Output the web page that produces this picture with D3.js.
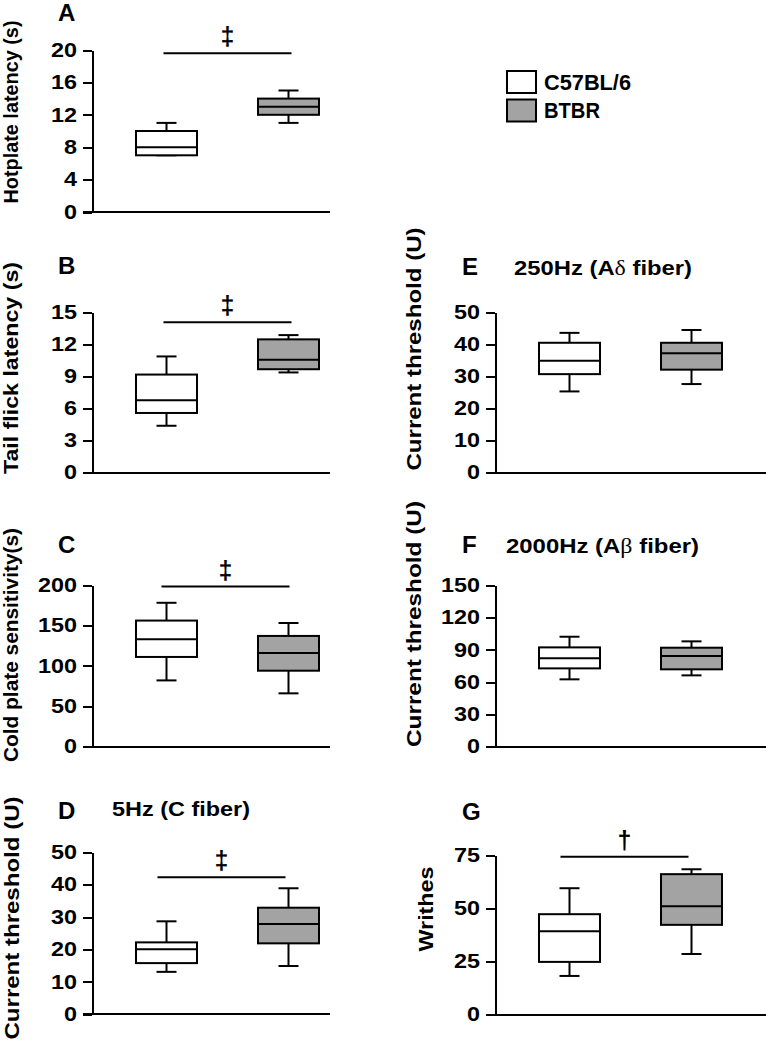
<!DOCTYPE html>
<meta charset="utf-8">
<head>
    <style type="text/css">
        body { margin: 0; background: #fff; }
        svg text { font-family: Arial, "Liberation Sans", sans-serif; font-weight: bold; fill: #000; }
        .axis path, .axis line, .xline { stroke: #000; stroke-width: 2; shape-rendering: crispEdges; }
        .axis text { font-size: 19.5px; }
        .box { stroke: #000; stroke-width: 2; }
        .sig { stroke: #000; stroke-width: 2; }
    </style>
</head>
<body>
<script src="https://d3js.org/d3.v7.min.js"></script>
<script>
    // groups (x categories)
    var groups = ["C57BL/6", "BTBR"];
    var fills = ["#ffffff", "#a3a3a3"];

    // box stats per group: [min, q1, median, q3, max]
    var hotplate  = [[7, 7, 8, 10, 11], [11, 12, 13, 14, 15]];
    var tailFlick = [[4.4, 5.6, 6.8, 9.2, 10.9], [9.4, 9.7, 10.6, 12.5, 12.9]];
    var coldPlate = [[82, 111, 133, 156, 178], [66, 94, 116, 137, 153]];
    var cFiber    = [[13.1, 15.8, 20.1, 22.2, 28.7], [14.9, 21.9, 27.9, 32.9, 38.9]];
    var adFiber   = [[25.4, 30.8, 35, 40.6, 43.7], [27.7, 32.2, 37.3, 40.6, 44.6]];
    var abFiber   = [[62.6, 72.8, 82.1, 92.3, 102.2], [66.3, 71.9, 84.2, 92, 97.9]];
    var writhes   = [[18.2, 24.8, 39.2, 47.2, 59.4], [28.5, 42.2, 50.9, 66, 68.3]];

    // tick labels
    var hotplateTicks = [0, 4, 8, 12, 16, 20];
    var tailTicks     = [0, 3, 6, 9, 12, 15];
    var coldTicks     = [0, 50, 100, 150, 200];
    var cTicks        = [0, 10, 20, 30, 40, 50];
    var adTicks       = [0, 10, 20, 30, 40, 50];
    var abTicks       = [0, 30, 60, 90, 120, 150];
    var writhesTicks  = [0, 25, 50, 75];

    // significance bars: level in data units and the symbol
    var sigLevels  = [19.6, 14.1, 198, 42.3, null, null, 74.2];
    var sigSymbols = ["\u2021", "\u2021", "\u2021", "\u2021", "", "", "\u2020"];

    // layout only: axis position, label spots (x, y centre, length)
    var panels = [
        { letter: "A", data: hotplate,  ticks: hotplateTicks, ylabel: "Hotplate latency (s)",      ax: 92,  y0: 212,    yTop: 50,    xEnd: 330, lab: [58, 21],  yl: [18, 112, 183], sdx: 0 },
        { letter: "B", data: tailFlick, ticks: tailTicks,     ylabel: "Tail flick latency (s)",    ax: 92,  y0: 472.7,  yTop: 312.7, xEnd: 330, lab: [58, 274], yl: [18, 368, 212], sdx: 0 },
        { letter: "C", data: coldPlate, ticks: coldTicks,     ylabel: "Cold plate sensitivity(s)", ax: 92,  y0: 746.7,  yTop: 585,   xEnd: 330, lab: [58, 553], yl: [18, 645, 234], sdx: -2 },
        { letter: "D", data: cFiber,    ticks: cTicks,        ylabel: "Current threshold (U)",     ax: 92,  y0: 1014.3, yTop: 852.3, xEnd: 330, lab: [58, 819], yl: [19, 918, 243], sdx: -6,
          title: ["5Hz (C fiber)"], tx: [112, 816, 138] },
        { letter: "E", data: adFiber,   ticks: adTicks,       ylabel: "Current threshold (U)",     ax: 495, y0: 472.7,  yTop: 312.7, xEnd: 766, lab: [462, 275], yl: [421, 349, 243], sdx: 0,
          title: ["250Hz (A", "\u03b4", " fiber)"], tx: [514, 275, 178] },
        { letter: "F", data: abFiber,   ticks: abTicks,       ylabel: "Current threshold (U)",     ax: 495, y0: 746.7,  yTop: 585.3, xEnd: 766, lab: [462, 553], yl: [421, 624, 246], sdx: 0,
          title: ["2000Hz (A", "\u03b2", " fiber)"], tx: [506, 553, 193] },
        { letter: "G", data: writhes,   ticks: writhesTicks,  ylabel: "Writhes",                   ax: 495, y0: 1014.7, yTop: 855,   xEnd: 766, lab: [462, 820], yl: [433, 909, 85], sdx: -6 }
    ];

    var svg = d3.select("body").append("svg")
        .attr("width", 766)
        .attr("height", 1050);

    var boxW = 61, capW = 20, tickStretch = 1.2;

    panels.forEach(function (p, i) {
        var yScale = d3.scaleLinear()
            .domain([0, d3.max(p.ticks)])
            .range([p.y0, p.yTop]);

        var xScale = d3.scalePoint()
            .domain(groups)
            .range([p.ax + 74.5, p.ax + 196.5]);

        // x baseline
        svg.append("line")
            .attr("class", "xline")
            .attr("x1", p.ax - 9).attr("x2", p.xEnd)
            .attr("y1", p.y0).attr("y2", p.y0);

        // y axis
        var yAxis = svg.append("g")
            .attr("class", "axis")
            .attr("transform", "translate(" + p.ax + ",0)")
            .call(d3.axisLeft(yScale).tickValues(p.ticks).tickSize(9).tickPadding(6).tickSizeOuter(0));
        // the figure's digits are wide: stretch them sideways, keeping the right edge
        yAxis.selectAll(".tick text")
            .attr("x", -15 / tickStretch)
            .attr("transform", "scale(" + tickStretch + ",1)");

        // panel letter
        svg.append("text")
            .attr("x", p.lab[0]).attr("y", p.lab[1])
            .style("font-size", "24px")
            .text(p.letter);

        // y label
        svg.append("text")
            .attr("transform", "translate(" + p.yl[0] + "," + p.yl[1] + ") rotate(-90)")
            .attr("text-anchor", "middle")
            .attr("textLength", p.yl[2])
            .attr("lengthAdjust", "spacingAndGlyphs")
            .style("font-size", "21px")
            .text(p.ylabel);

        // panel title (fiber type)
        if (p.title) {
            var t = svg.append("text")
                .attr("x", p.tx[0]).attr("y", p.tx[1])
                .attr("textLength", p.tx[2])
                .attr("lengthAdjust", "spacingAndGlyphs")
                .style("font-size", "21px");
            p.title.forEach(function (s, k) {
                var ts = t.append("tspan").text(s);
                if (k === 1) ts.style("font-family", "'Liberation Serif', serif").style("font-weight", "normal");
            });
        }

        // boxes
        var b = svg.append("g").selectAll(".bp")
            .data(p.data)
            .enter().append("g")
            .attr("class", "bp");

        b.append("line").attr("class", "box")
            .attr("x1", function (d, j) { return xScale(groups[j]); })
            .attr("x2", function (d, j) { return xScale(groups[j]); })
            .attr("y1", function (d) { return yScale(d[0]); })
            .attr("y2", function (d) { return yScale(d[4]); });
        b.append("line").attr("class", "box")
            .attr("x1", function (d, j) { return xScale(groups[j]) - capW / 2; })
            .attr("x2", function (d, j) { return xScale(groups[j]) + capW / 2; })
            .attr("y1", function (d) { return yScale(d[4]); })
            .attr("y2", function (d) { return yScale(d[4]); });
        b.append("line").attr("class", "box")
            .attr("x1", function (d, j) { return xScale(groups[j]) - capW / 2; })
            .attr("x2", function (d, j) { return xScale(groups[j]) + capW / 2; })
            .attr("y1", function (d) { return yScale(d[0]); })
            .attr("y2", function (d) { return yScale(d[0]); });
        b.append("rect").attr("class", "box")
            .attr("x", function (d, j) { return xScale(groups[j]) - boxW / 2; })
            .attr("width", boxW)
            .attr("y", function (d) { return yScale(d[3]); })
            .attr("height", function (d) { return yScale(d[1]) - yScale(d[3]); })
            .attr("fill", function (d, j) { return fills[j]; });
        b.append("line").attr("class", "box")
            .attr("x1", function (d, j) { return xScale(groups[j]) - boxW / 2; })
            .attr("x2", function (d, j) { return xScale(groups[j]) + boxW / 2; })
            .attr("y1", function (d) { return yScale(d[2]); })
            .attr("y2", function (d) { return yScale(d[2]); });

        // significance bar
        if (sigLevels[i] != null) {
            var x1 = xScale(groups[0]) - 3 + p.sdx, x2 = xScale(groups[1]) + 3 + p.sdx;
            var ys = yScale(sigLevels[i]);
            svg.append("line").attr("class", "sig")
                .attr("x1", x1).attr("x2", x2)
                .attr("y1", ys).attr("y2", ys);
            svg.append("text")
                .attr("x", (x1 + x2) / 2).attr("y", ys - 8)
                .attr("text-anchor", "middle")
                .style("font-size", "25px")
                .text(sigSymbols[i]);
        }
    });

    // legend
    var leg = svg.append("g").attr("transform", "translate(507,71)");
    leg.selectAll("rect")
        .data(groups)
        .enter().append("rect")
        .attr("class", "box")
        .attr("x", 0)
        .attr("y", function (d, i) { return i * 28.5; })
        .attr("width", 29).attr("height", 22)
        .attr("fill", function (d, i) { return fills[i]; });
    leg.selectAll("text")
        .data(groups)
        .enter().append("text")
        .attr("x", 37)
        .attr("y", function (d, i) { return 18.5 + i * 28.5; })
        .attr("textLength", function (d, i) { return i === 0 ? 87 : 56; })
        .attr("lengthAdjust", "spacingAndGlyphs")
        .style("font-size", "22px")
        .text(function (d) { return d; });
</script>
</body>
